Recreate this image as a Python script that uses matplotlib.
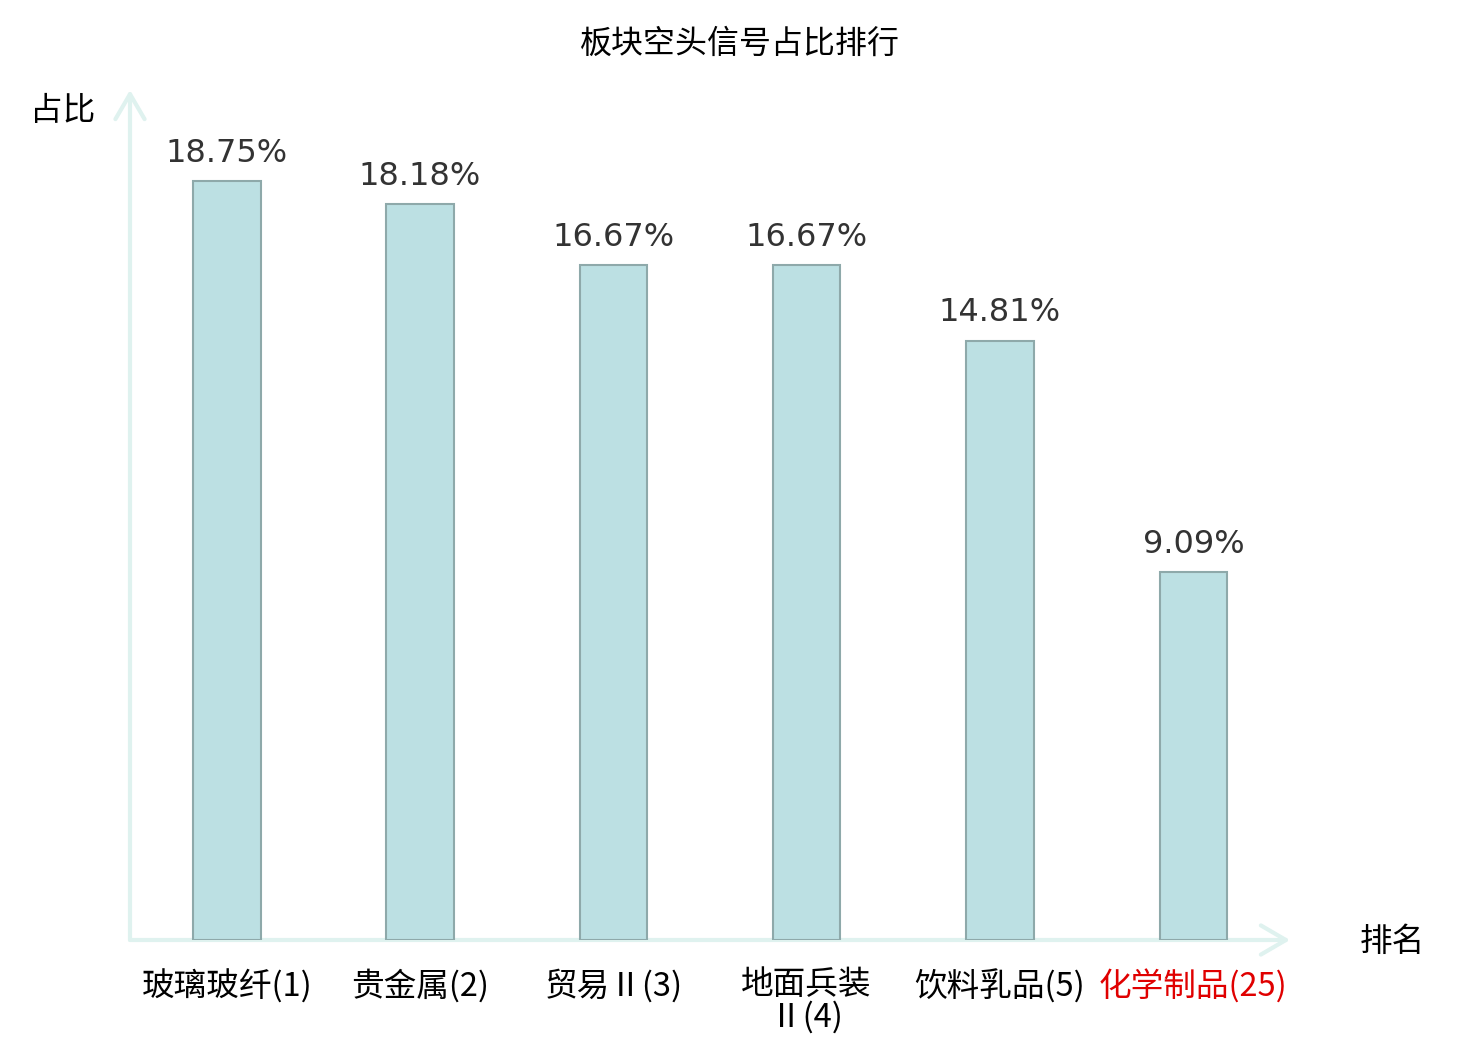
import matplotlib.pyplot as plt

plt.rcParams['font.family'] = ['Noto Sans CJK SC', 'DejaVu Sans']

# data
sectors = ['玻璃玻纤(1)', '贵金属(2)', '贸易Ⅱ(3)', '地面兵装\nⅡ(4)', '饮料乳品(5)', '化学制品(25)']
ratios = [18.75, 18.18, 16.67, 16.67, 14.81, 9.09]
label_colors = ['#000000', '#000000', '#000000', '#000000', '#000000', '#e00000']

axis_color = '#dff2ef'
bar_color = '#bce0e3'
edge_color = '#8ea9aa'

fig = plt.figure(figsize=(14.8, 10.4), dpi=100)
ax = fig.add_axes([130 / 1480, 100 / 1040, 1160 / 1480, 850 / 1040])

x = list(range(len(sectors)))
bars = ax.bar(x, ratios, width=0.35, color=bar_color, edgecolor=edge_color, linewidth=1.5)

# value labels above bars
for xi, v in zip(x, ratios):
    ax.annotate(f'{v:.2f}%', (xi, v), xytext=(0, 9), textcoords='offset points',
                ha='center', va='bottom', fontsize=23, color='#333333',
                family='DejaVu Sans')

ax.set_xlim(-0.5, 5.5)
ax.set_ylim(0, 21.0)

for s in ax.spines.values():
    s.set_visible(False)
ax.set_yticks([])
ax.set_xticks(x)
ax.set_xticklabels(sectors, fontsize=23.5, linespacing=1.0)
for lbl, c in zip(ax.get_xticklabels(), label_colors):
    lbl.set_color(c)
ax.tick_params(axis='x', length=0, pad=21)

# axis arrows
arrow = dict(arrowstyle='->, head_length=0.6, head_width=0.35', color=axis_color,
             lw=3, mutation_scale=30, shrinkA=0, shrinkB=0)
ax.annotate('', xy=(5.5, 0), xytext=(-0.5, 0), arrowprops=arrow,
            annotation_clip=False, zorder=0)
ax.annotate('', xy=(-0.5, 21.0), xytext=(-0.5, 0), arrowprops=arrow,
            annotation_clip=False, zorder=0)

fig.text(63 / 1480, 1 - 111 / 1040, '占比', fontsize=23.5, ha='center', va='center')
fig.text(1392 / 1480, 1 - 942 / 1040, '排名', fontsize=23.5, ha='center', va='center')
fig.text(740 / 1480, 1 - 44 / 1040, '板块空头信号占比排行', fontsize=23, ha='center', va='center')

plt.savefig('out.png', dpi=100)
plt.close()
